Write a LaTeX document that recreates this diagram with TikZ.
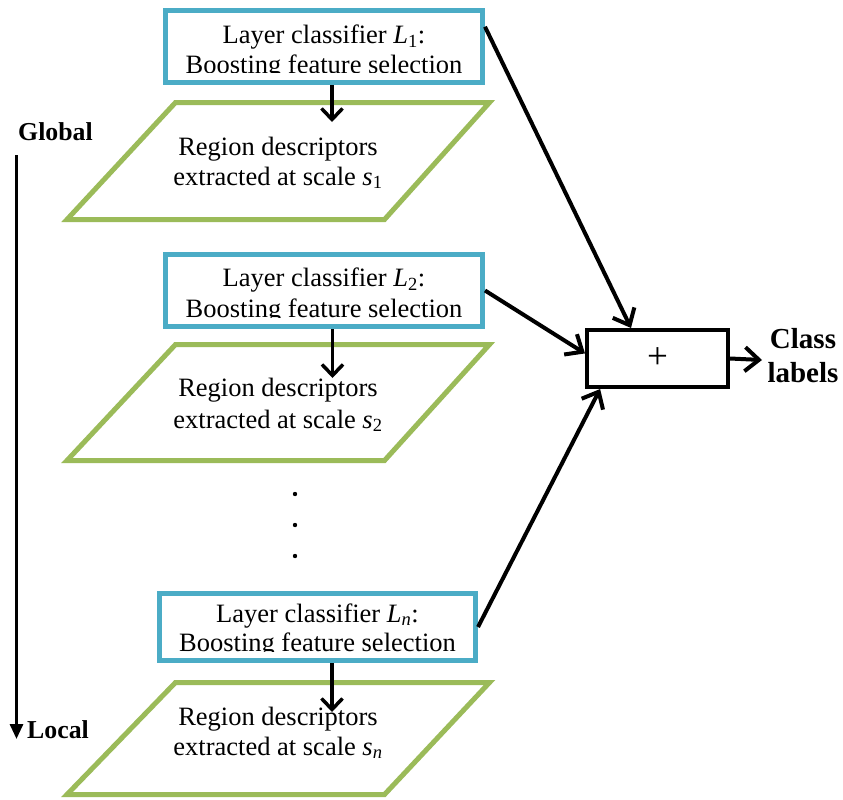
\documentclass[tikz,border=0pt]{standalone}
\usepackage{fontspec}
\setmainfont{Liberation Serif}
\usetikzlibrary{arrows.meta,calc}
\definecolor{layerblue}{HTML}{4BACC6}
\definecolor{descgreen}{HTML}{9BBB59}
\begin{document}
\begin{tikzpicture}[x=1pt,y=-1pt,
  txt/.style={font=\fontsize{26.5}{30}\selectfont,inner sep=0pt,anchor=base},
  sidetxt/.style={font=\fontsize{25.8}{30}\selectfont\bfseries,inner sep=0pt},
  outtxt/.style={font=\fontsize{29}{33.5}\selectfont\bfseries,inner sep=0pt},
  layerbox/.style={draw=layerblue,line width=5pt,fill=white,inner sep=0pt},
  descshape/.style={draw=descgreen,line width=5pt,fill=white,line join=miter},
  sumbox/.style={draw=black,line width=4pt,fill=white,inner sep=0pt,
    minimum width=141pt,minimum height=57pt,font=\fontsize{37}{37}\selectfont},
  stepflow/.style={draw=black,line width=3.5pt,-{Straight Barb[length=11pt,width=21pt]}},
  joinflow/.style={draw=black,line width=4pt,-{Straight Barb[length=14pt,width=24pt]}},
  scaleaxis/.style={draw=black,line width=3pt,-{Triangle[length=15pt,width=13pt]}}
]
\useasboundingbox (0,0) rectangle (843,800);

% ---- layer classifiers ----
\node[layerbox,minimum width=317pt,minimum height=72pt] (b1) at (324,46.5) {};
\node[layerbox,minimum width=317pt,minimum height=72pt] (b2) at (324,290.5) {};
\node[layerbox,minimum width=316pt,minimum height=67pt] (bn) at (317.5,627) {};

\begin{scope}
  \clip (165,10) rectangle (483,73);
  \node[txt] (b1t1) at (324,43.5) {Layer classifier \textit{L}\textsubscript{1}:};
  \node[txt] (b1t2) at (324,73.2) {Boosting feature selection};
\end{scope}
\begin{scope}
  \clip (165,254) rectangle (483,317);
  \node[txt] (b2t1) at (324,286.5) {Layer classifier \textit{L}\textsubscript{2}:};
  \node[txt] (b2t2) at (324,317) {Boosting feature selection};
\end{scope}
\begin{scope}
  \clip (159,593) rectangle (476,651.5);
  \node[txt] (bnt1) at (317.5,622) {Layer classifier \textit{L}\textsubscript{\textit{n}}:};
  \node[txt] (bnt2) at (317.5,651.5) {Boosting feature selection};
\end{scope}

% ---- region descriptor parallelograms ----
\draw[descshape] (175.5,102.5) -- (489.5,102.5) -- (384.5,219.5) -- (67,219.5) -- cycle;
\draw[descshape] (175.5,344.5) -- (489.5,344.5) -- (384.5,460.5) -- (67,460.5) -- cycle;
\draw[descshape] (175.5,682.5) -- (489.5,682.5) -- (384.5,794.5) -- (67,794.5) -- cycle;

\node[txt] (d1t1) at (278,155) {Region descriptors};
\node[txt] (d1t2) at (278,185) {extracted at scale \textit{s}\textsubscript{1}};
\node[txt] (d2t1) at (278,396.7) {Region descriptors};
\node[txt] (d2t2) at (278,428) {extracted at scale \textit{s}\textsubscript{2}};
\node[txt] (dnt1) at (278,725) {Region descriptors};
\node[txt] (dnt2) at (278,755) {extracted at scale \textit{s}\textsubscript{\textit{n}}};

% ---- classifier to descriptor arrows ----
\coordinate (d1in) at (332,122);
\coordinate (d2in) at (332.5,378);
\coordinate (dnin) at (332,712);
\draw[stepflow] (b1.south -| d1in) -- (d1in);
\draw[stepflow] (b2.south -| d2in) -- (d2in);
\draw[stepflow] (bn.south -| dnin) -- (dnin);

% ---- ellipsis ----
\fill (295,494) circle (2.2pt);
\fill (295,525) circle (2.2pt);
\fill (295,556) circle (2.2pt);

% ---- combination ----
\node[sumbox] (plus) at (657.5,358.5) {+};
\node[outtxt,align=center,anchor=center] (cls) at (803,355.5) {Class\\labels};
\coordinate (clsin) at (762,360);

\draw[joinflow] (b1.7.6) -- (plus.131);
\draw[joinflow] (b2.east) -- (plus.176);
\draw[joinflow] (bn.east) -- (plus.208);
\draw[joinflow] (plus.east) -- (clsin);

% ---- global to local axis ----
\node[sidetxt,anchor=base west] (glob) at (18,140) {Global};
\node[sidetxt,anchor=base west] (loc) at (27,738) {Local};
\coordinate (axtop) at (16.5,155);
\coordinate (axbot) at (16.5,739);
\draw[scaleaxis] (axtop) -- (axbot);

\end{tikzpicture}
\end{document}
